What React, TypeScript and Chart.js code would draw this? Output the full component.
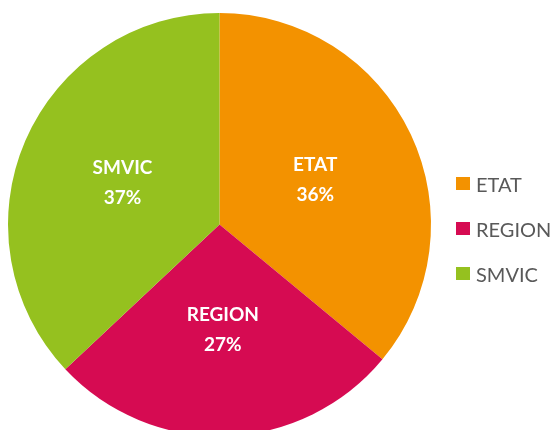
import React, { useEffect, useRef } from "react";
import { Chart, registerables } from "chart.js";

Chart.register(...registerables);

const categories = ["ETAT", "REGION", "SMVIC"];
const shares = [36, 27, 37];
const colors = ["#F39200", "#D60B52", "#95C11F"];

const FONT = "Lato, 'Open Sans', sans-serif";

const sliceLabels = {
  id: "sliceLabels",
  afterDatasetsDraw(chart: any) {
    const ctx = chart.ctx;
    const meta = chart.getDatasetMeta(0);
    ctx.save();
    ctx.fillStyle = "#ffffff";
    ctx.font = `bold 19px ${FONT}`;
    ctx.textAlign = "center";
    ctx.textBaseline = "middle";
    meta.data.forEach((arc: any, i: number) => {
      const p = arc.tooltipPosition();
      ctx.fillText(categories[i], p.x, p.y - 15);
      ctx.fillText(shares[i] + "%", p.x, p.y + 15);
    });
    ctx.restore();
  },
};

export default function App() {
  const ref = useRef<HTMLCanvasElement>(null);
  useEffect(() => {
    document.body.style.margin = "0";
    const chart = new Chart(ref.current!, {
      type: "pie",
      data: {
        labels: categories,
        datasets: [
          {
            data: shares,
            backgroundColor: colors,
            borderWidth: 0,
          },
        ],
      },
      options: {
        responsive: false,
        animation: false,
        layout: { padding: { left: 8, top: 13, right: 123, bottom: 24 } },
        plugins: {
          legend: { display: false },
          tooltip: { enabled: false },
        },
      },
      plugins: [sliceLabels],
    });
    return () => chart.destroy();
  }, []);

  return (
    <div style={{ position: "relative", width: 554, height: 430, overflow: "hidden", background: "#fff" }}>
      <canvas ref={ref} width={554} height={460} style={{ position: "absolute", left: 0, top: 0 }} />
      <div style={{ position: "absolute", left: 456, top: 161 }}>
        {categories.map((c, i) => (
          <div key={c} style={{ display: "flex", alignItems: "center", height: 45 }}>
            <span style={{ display: "inline-block", width: 14, height: 13, background: colors[i], marginRight: 6 }} />
            <span style={{ font: `20px ${FONT}`, color: "#595959" }}>{c}</span>
          </div>
        ))}
      </div>
    </div>
  );
}
